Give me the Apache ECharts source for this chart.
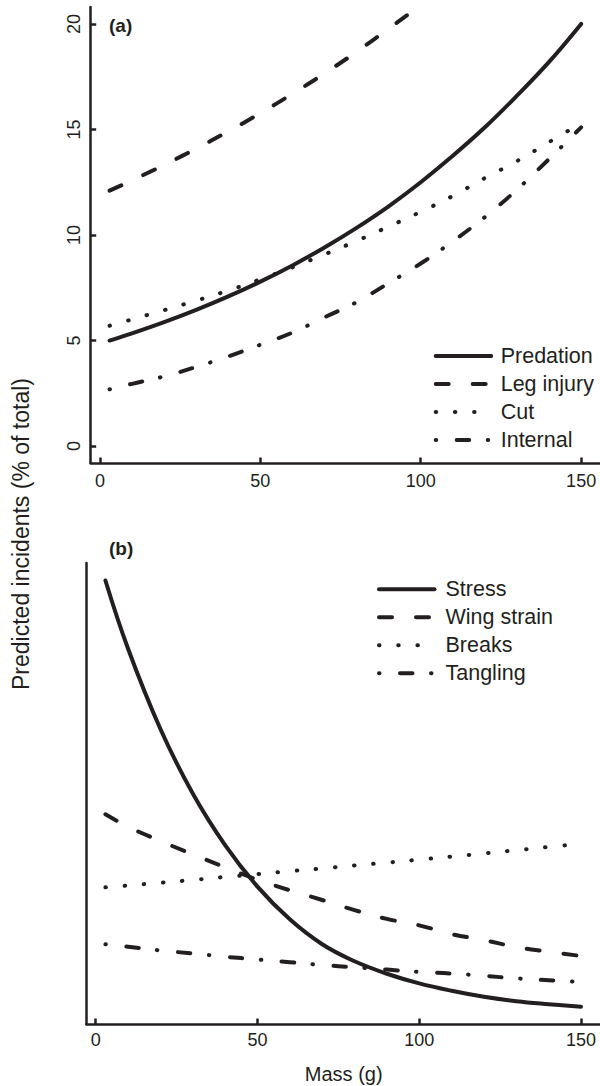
<!DOCTYPE html>
<html>
<head>
<meta charset="utf-8">
<script src="https://cdn.jsdelivr.net/npm/echarts@6/dist/echarts.min.js"></script>
<style>
html,body{margin:0;padding:0;background:#fff;}
#chart{width:600px;height:1086px;}
</style>
</head>
<body>
<div id="chart"></div>
<script>
// ---- data ----
var massValues = [3, 10, 20, 30, 40, 50, 60, 70, 80, 90, 100, 110, 120, 130, 140, 150];
var xTickValues = [0, 50, 100, 150];
var yTickValuesTop = [0, 5, 10, 15, 20];

// panel (a)
var predation = [5.0, 5.34, 5.87, 6.45, 7.09, 7.79, 8.56, 9.41, 10.34, 11.36, 12.5, 13.75, 15.1, 16.6, 18.2, 20.0];
var legInjury = [12.1, 12.59, 13.32, 14.09, 14.91, 15.77, 16.69, 17.65, 18.68, 19.77, 20.91, 22.13];
var cut = [5.7, 6.0, 6.44, 6.89, 7.37, 7.9, 8.47, 9.08, 9.72, 10.4, 11.1, 11.85, 12.7, 13.5, 14.4, 15.3];
var internal = [2.69, 2.95, 3.3, 3.75, 4.25, 4.8, 5.38, 6.1, 6.82, 7.72, 8.65, 9.7, 10.85, 12.15, 13.6, 15.1];

// panel (b) (no y scale shown; relative units)
var stress = [96.2, 81.4, 64.0, 50.0, 38.8, 29.8, 22.7, 17.3, 13.6, 10.9, 8.8, 7.2, 5.9, 4.95, 4.3, 3.75];
var wingStrain = [45.5, 42.8, 39.7, 36.8, 34.0, 31.3, 29.0, 26.9, 24.7, 22.8, 21.4, 19.5, 18.2, 16.7, 15.7, 14.75];
var breaks = [29.65, 30.05, 30.65, 31.25, 31.9, 32.5, 33.15, 33.75, 34.4, 35.0, 35.65, 36.3, 37.0, 37.7, 38.4, 39.1];
var tangling = [17.3, 16.75, 15.95, 15.3, 14.6, 14.0, 13.4, 12.8, 12.3, 11.8, 11.3, 10.95, 10.45, 9.9, 9.5, 9.15];

var namesTop = ['Predation', 'Leg injury', 'Cut', 'Internal'];
var namesBottom = ['Stress', 'Wing strain', 'Breaks', 'Tangling'];

// ---- styling ----
var INK = '#231f20';
var FONT = '"Liberation Sans", Arial, Helvetica, sans-serif';
var DASH = {
  solid: 'solid',
  dashed: [13, 24],
  dotted: [0.5, 18.7],
  dotdash: [0.5, 20.5, 12.5, 18.5]
};

function pairs(vals) {
  return vals.map(function (v, i) { return [massValues[i], v]; });
}
function lineSeries(name, vals, dash, idx) {
  return {
    name: name,
    type: 'line',
    xAxisIndex: idx,
    yAxisIndex: idx,
    data: pairs(vals),
    symbol: 'none',
    smooth: 0.4,
    clip: true,
    silent: true,
    lineStyle: { color: INK, width: 4, type: dash, cap: 'round', join: 'round' },
    itemStyle: { color: INK },
    emphasis: { disabled: true }
  };
}
function xAxisCfg(idx, margin) {
  return {
    type: 'value', gridIndex: idx, min: -2.88, max: 155.88,
    axisLine: { show: true, onZero: false, lineStyle: { color: INK, width: 2.5 } },
    axisTick: { show: true, inside: true, length: 5.5, customValues: xTickValues, lineStyle: { color: INK, width: 2.5 } },
    axisLabel: { show: true, customValues: xTickValues, color: INK, fontSize: 18, fontFamily: FONT, margin: margin },
    splitLine: { show: false }
  };
}
function legendCfg(names, left, top, pad) {
  return {
    data: names,
    orient: 'vertical',
    left: left, top: top,
    padding: 0,
    itemWidth: 55.5, itemHeight: 20, itemGap: 6,
    selectedMode: false,
    itemStyle: { opacity: 0 },
    lineStyle: { width: 4, type: 'inherit', cap: 'round', color: INK },
    textStyle: { color: INK, fontSize: 21.5, fontFamily: FONT, padding: [0, 0, 0, pad] }
  };
}

var chart = echarts.init(document.getElementById('chart'), null, { renderer: 'svg', width: 600, height: 1086 });
chart.setOption({
  backgroundColor: '#ffffff',
  animation: false,
  grid: [
    { left: 90.7, top: 7, width: 510.6, height: 456 },
    { left: 86.4, top: 563, width: 515, height: 461 }
  ],
  xAxis: [xAxisCfg(0, 9), xAxisCfg(1, 7)],
  yAxis: [
    {
      type: 'value', gridIndex: 0, min: -0.8, max: 20.8,
      axisLine: { show: true, onZero: false, lineStyle: { color: INK, width: 2.5 } },
      axisTick: { show: true, inside: true, length: 5.5, customValues: yTickValuesTop, lineStyle: { color: INK, width: 2.5 } },
      axisLabel: { show: true, customValues: yTickValuesTop, rotate: 90, color: INK, fontSize: 18, fontFamily: FONT, margin: 8 },
      splitLine: { show: false }
    },
    {
      type: 'value', gridIndex: 1, min: 0, max: 100,
      axisLine: { show: true, onZero: false, lineStyle: { color: INK, width: 2.5 } },
      axisTick: { show: false },
      axisLabel: { show: false },
      splitLine: { show: false }
    }
  ],
  legend: [
    legendCfg(namesTop, 433.7, 345, 4.5),
    legendCfg(namesBottom, 377, 578.3, 6)
  ],
  series: [
    lineSeries(namesTop[0], predation, DASH.solid, 0),
    lineSeries(namesTop[1], legInjury, DASH.dashed, 0),
    lineSeries(namesTop[2], cut, DASH.dotted, 0),
    lineSeries(namesTop[3], internal, DASH.dotdash, 0),
    lineSeries(namesBottom[0], stress, DASH.solid, 1),
    lineSeries(namesBottom[1], wingStrain, DASH.dashed, 1),
    lineSeries(namesBottom[2], breaks, DASH.dotted, 1),
    lineSeries(namesBottom[3], tangling, DASH.dotdash, 1)
  ],
  graphic: [
    { type: 'text', left: 109, top: 16, style: { text: '(a)', fill: INK, font: 'bold 19px ' + FONT } },
    { type: 'text', left: 109, top: 539, style: { text: '(b)', fill: INK, font: 'bold 19px ' + FONT } },
    { type: 'text', x: 343.7, y: 1074, style: { text: 'Mass (g)', fill: INK, font: '20px ' + FONT, align: 'center', verticalAlign: 'middle' } },
    { type: 'text', x: 21, y: 534, rotation: Math.PI / 2, style: { text: 'Predicted incidents (% of total)', fill: INK, font: '23px ' + FONT, align: 'center', verticalAlign: 'middle' } }
  ]
});
</script>
</body>
</html>
